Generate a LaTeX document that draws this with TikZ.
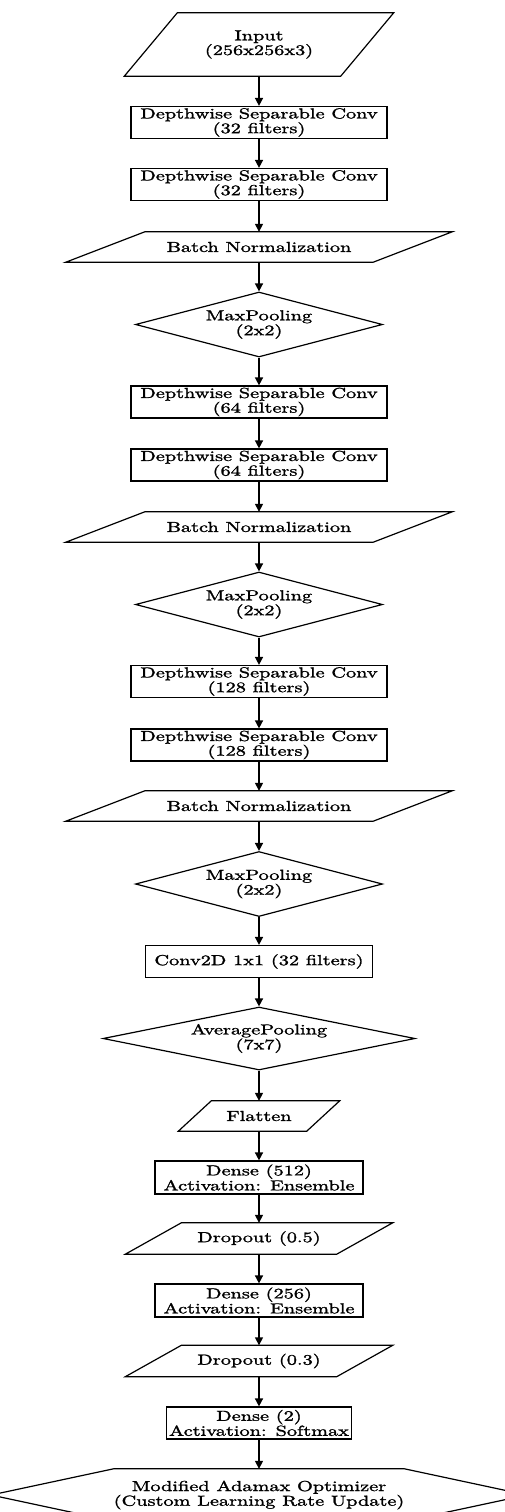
\documentclass[tikz,border=0pt]{standalone}
\usepackage{fontspec}
\newfontfamily\flowfont{lmroman10-regular.otf}[FakeStretch=1.4,FakeBold=1.6]
\usetikzlibrary{shapes.geometric}
\usetikzlibrary{arrows.meta}

\begin{document}
\begin{tikzpicture}
[x=1pt,y=-1pt,
  linedecorate/.style={-{Triangle[length=8pt,width=8pt]},line width=1.5pt},%
  textdecorate/.style={inner sep=0pt,align=center,
    font=\flowfont\fontsize{14.5}{12.8}\selectfont},%
  shapedecorate/.style={draw,line width=1.2pt,line join=miter},%
  boxdecorate/.style={textdecorate,shapedecorate,minimum height=32},%
  diamdecorate/.style={textdecorate,shapedecorate,shape=diamond,aspect=3.8}]
%%
%% Macros
%% Parallelogram: name, y, edge length, height, slant, text
\newcommand{\slantnode}[6]{%
  \node (#1) at (259,#2) [textdecorate,minimum width=#3,minimum height=#4] {#6};
  \draw[shapedecorate] ([xshift=#5/2]#1.north west) -- ([xshift=#5/2]#1.north east)
    -- ([xshift=-#5/2]#1.south east) -- ([xshift=-#5/2]#1.south west) -- cycle;
}
%% Convolution block
\newcommand{\convnode}[3]{%
  \node (#1) at (259,#2) [boxdecorate,minimum width=256] {Depthwise Separable Conv\\(#3 filters)};
}
%% Pooling
\newcommand{\poolnode}[3]{%
  \node (#1) at (259,#2) [diamdecorate,minimum width=247,minimum height=65] {#3};
}
\useasboundingbox (0,0) rectangle (505,1512);
%%
%% Feature extractor
\slantnode{inp}{44.5}{216}{63}{53}{Input\\(256x256x3)}
\convnode{dsa}{122.5}{32}
\convnode{dsb}{184.5}{32}
\slantnode{bna}{247}{307}{30}{79}{Batch Normalization}
\poolnode{mpa}{324.5}{MaxPooling\\(2x2)}
\convnode{dsc}{402}{64}
\convnode{dsd}{465}{64}
\slantnode{bnb}{527}{307}{30}{79}{Batch Normalization}
\poolnode{mpb}{604.5}{MaxPooling\\(2x2)}
\convnode{dse}{681.5}{128}
\convnode{dsf}{745}{128}
\slantnode{bnc}{806}{307}{30}{79}{Batch Normalization}
\poolnode{mpc}{884}{MaxPooling\\(2x2)}
\node (cva) at (259,961.5) [boxdecorate,minimum width=227] {Conv2D 1x1 (32 filters)};
\node (avp) at (259,1038.5) [diamdecorate,aspect=4.9,minimum width=312,minimum height=63]
  {AveragePooling\\(7x7)};
%%
%% Classifier
\slantnode{flt}{1116}{128}{30}{33}{Flatten}
\node (dna) at (259,1177.5) [boxdecorate,minimum width=208,minimum height=33]
  {Dense (512)\\Activation: Ensemble};
\slantnode{dra}{1238.5}{211}{31}{56}{Dropout (0.5)}
\node (dnb) at (259,1300.5) [boxdecorate,minimum width=208,minimum height=33]
  {Dense (256)\\Activation: Ensemble};
\slantnode{drb}{1361}{211}{31}{56}{Dropout (0.3)}
\node (dnc) at (259,1423) [boxdecorate,minimum width=185] {Dense (2)\\Activation: Softmax};
%% Optimizer hexagon
\node (opt) at (259,1495) [textdecorate,minimum width=245,minimum height=52]
  {Modified Adamax Optimizer\\(Custom Learning Rate Update)};
\draw[shapedecorate] (opt.north west) -- (opt.north east) -- ([xshift=122.5]opt.east)
  -- (opt.south east) -- (opt.south west) -- ([xshift=-122.5]opt.west) -- cycle;
%%
%% Arrows
\foreach \startnode/\endnode in {inp/dsa, dsa/dsb, dsb/bna, bna/mpa, mpa/dsc, dsc/dsd,
  dsd/bnb, bnb/mpb, mpb/dse, dse/dsf, dsf/bnc, bnc/mpc, mpc/cva, cva/avp, avp/flt,
  flt/dna, dna/dra, dra/dnb, dnb/drb, drb/dnc, dnc/opt}
{
  \draw[linedecorate] (\startnode.south) -- (\endnode.north);
}
\end{tikzpicture}
\end{document}
